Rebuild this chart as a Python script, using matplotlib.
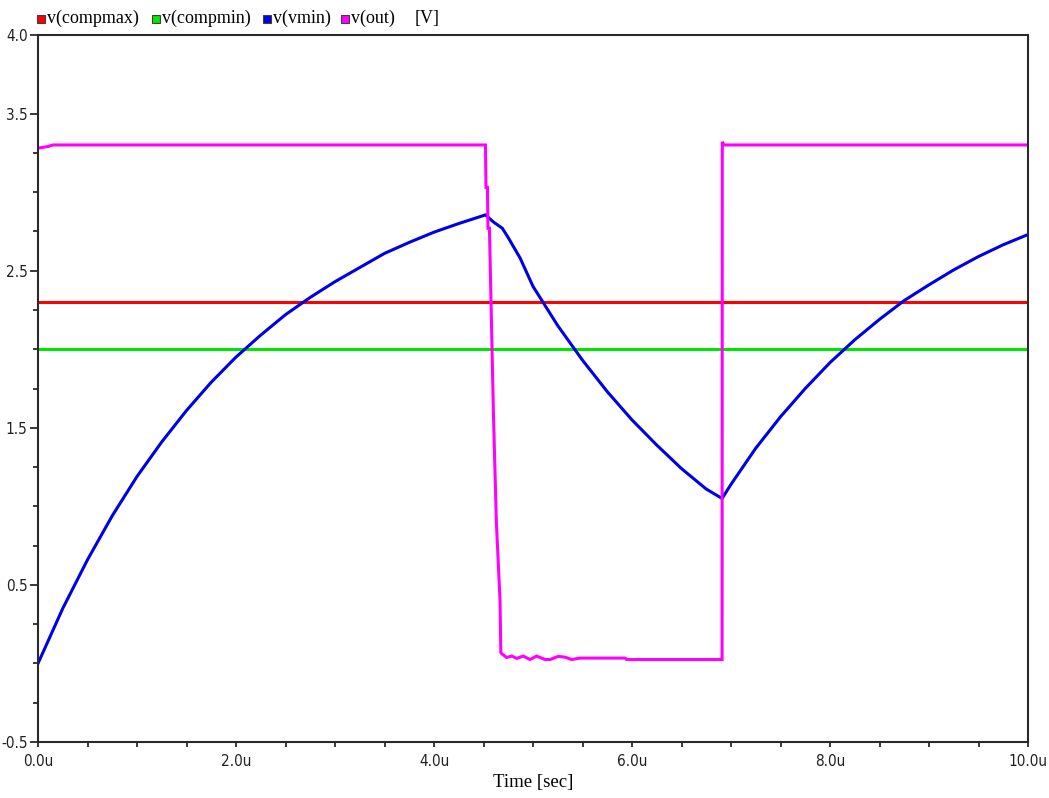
#!/usr/bin/env python3
"""Transient plot of the comparator thresholds, timing cap voltage and output."""

import matplotlib
matplotlib.use("Agg")
import matplotlib.pyplot as plt
from matplotlib import font_manager
from matplotlib.font_manager import FontProperties
from matplotlib.patches import Rectangle

# time axis in microseconds
compmax_t = [0.0, 10.0]
compmax_v = [2.3, 2.3]

compmin_t = [0.0, 10.0]
compmin_v = [2.0, 2.0]

vmin_t = [0.0, 0.25, 0.5, 0.75, 1.0, 1.25, 1.5, 1.75, 2.0, 2.25, 2.5, 2.75,
          3.0, 3.25, 3.5, 3.75, 4.0, 4.25, 4.52, 4.60, 4.69, 4.75, 4.87,
          5.0, 5.25, 5.5, 5.75, 6.0, 6.25, 6.5, 6.75, 6.91,
          7.0, 7.25, 7.5, 7.75, 8.0, 8.25, 8.5, 8.75, 9.0, 9.25, 9.5, 9.75, 10.0]
vmin_v = [0.0, 0.35, 0.66, 0.94, 1.19, 1.41, 1.61, 1.79, 1.95, 2.09, 2.22, 2.33,
          2.43, 2.52, 2.61, 2.68, 2.745, 2.80, 2.855, 2.81, 2.77, 2.71, 2.58,
          2.40, 2.15, 1.93, 1.73, 1.55, 1.39, 1.24, 1.11, 1.05,
          1.14, 1.37, 1.57, 1.75, 1.915, 2.06, 2.19, 2.31, 2.41, 2.505, 2.59, 2.665, 2.73]

out_t = [0.0, 0.05, 0.1, 0.15, 4.52, 4.525, 4.54, 4.545, 4.56, 4.60, 4.63,
         4.667, 4.675, 4.684, 4.734, 4.785, 4.835, 4.902, 4.97, 5.037, 5.121,
         5.172, 5.256, 5.323, 5.391, 5.475, 5.93, 5.947, 6.91, 6.912, 6.93, 10.0]
out_v = [3.28, 3.285, 3.29, 3.30, 3.30, 3.03, 3.03, 2.77, 2.77, 1.6, 0.9,
         0.40, 0.07, 0.062, 0.038, 0.047, 0.032, 0.047, 0.025, 0.047, 0.025,
         0.025, 0.045, 0.040, 0.025, 0.034, 0.034, 0.025, 0.025, 3.32, 3.30, 3.30]

x_major = [0, 2, 4, 6, 8, 10]
x_labels = ["0.0u", "2.0u", "4.0u", "6.0u", "8.0u", "10.0u"]
x_minor = [0.5, 1.0, 1.5, 2.5, 3.0, 3.5, 4.5, 5.0, 5.5, 6.5, 7.0, 7.5, 8.5, 9.0, 9.5]

y_major = [-0.5, 0.5, 1.5, 2.5, 3.5, 4.0]
y_labels = ["-0.5", "0.5", "1.5", "2.5", "3.5", "4.0"]
y_minor = [-0.25, 0.0, 0.25, 0.75, 1.0, 1.25, 1.75, 2.0, 2.25, 2.75, 3.0, 3.25]

traces = [
    ("v(compmax)", compmax_t, compmax_v, "#ff0000"),
    ("v(compmin)", compmin_t, compmin_v, "#00e600"),
    ("v(vmin)", vmin_t, vmin_v, "#0000e6"),
    ("v(out)", out_t, out_v, "#ff00ff"),
]


def narrow_tick_font():
    """Pick a condensed sans face for the axis numbers if one is installed."""
    for f in font_manager.fontManager.ttflist:
        narrow = ("Narrow" in f.name or "Condensed" in f.name
                  or f.stretch in ("condensed", "semi-condensed"))
        if narrow and "Serif" not in f.name and "Mono" not in f.name \
                and f.style == "normal" and f.weight in (400, "normal", "regular"):
            return FontProperties(fname=f.fname, size=11)
    return FontProperties(family="Liberation Sans", size=10.5)


tick_fp = narrow_tick_font()
serif_font = "Liberation Serif"

fig = plt.figure(figsize=(10.49, 7.98), dpi=100)
ax = fig.add_axes([38 / 1049, 1 - 742 / 798, 990 / 1049, 707 / 798])

for name, t, v, color in traces:
    ax.plot(t, v, color=color, lw=2.2, solid_joinstyle="miter")

ax.set_xlim(0, 10)
ax.set_ylim(-0.5, 4.0)

ax.set_xticks(x_major)
ax.set_xticklabels(x_labels)
ax.set_xticks(x_minor, minor=True)
ax.set_yticks(y_major)
ax.set_yticklabels(y_labels)
ax.set_yticks(y_minor, minor=True)

for s in ax.spines.values():
    s.set_color("#2a2a2a")
    s.set_linewidth(1.5)

ax.tick_params(axis="x", which="both", direction="out", length=3.5, width=1.3,
               color="#2a2a2a", pad=5)
ax.tick_params(axis="y", which="major", direction="out", length=6, width=1.3,
               color="#2a2a2a", pad=1.5)
ax.tick_params(axis="y", which="minor", direction="out", length=3.6, width=1.3,
               color="#2a2a2a")
for lbl in ax.get_xticklabels() + ax.get_yticklabels():
    lbl.set_fontproperties(tick_fp)
    lbl.set_color("#202020")

ax.set_xlabel("Time [sec]", family=serif_font, fontsize=13.5, labelpad=4)

# legend strip along the top edge
legend_x = [37, 152, 263, 341]
for (name, t, v, color), x0 in zip(traces, legend_x):
    fig.add_artist(Rectangle((x0 / 1049, 1 - 23 / 798), 8 / 1049, 8 / 798,
                             transform=fig.transFigure, facecolor=color,
                             edgecolor="#404040", lw=0.8))
    fig.text((x0 + 10) / 1049, 1 - 18 / 798, name, family=serif_font,
             fontsize=13, va="center", ha="left")
fig.text(415 / 1049, 1 - 18 / 798, "[V]", family=serif_font, fontsize=13,
         va="center", ha="left")

fig.savefig("out.png", dpi=100)
